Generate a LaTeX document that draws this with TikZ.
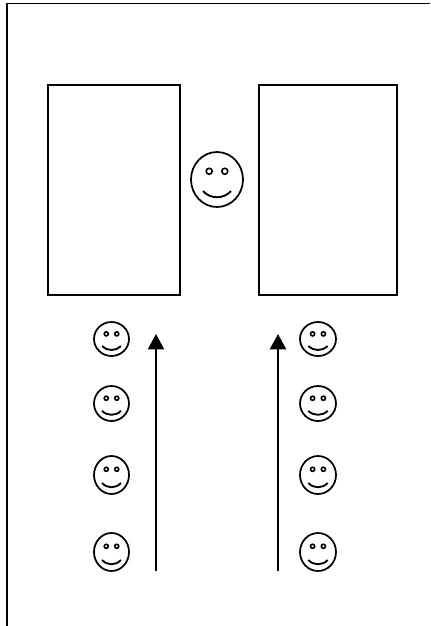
\documentclass[tikz,border=0pt]{standalone}
\usetikzlibrary{arrows.meta}
\tikzset{
  x=0.75pt,y=-0.75pt,
  line/.style={draw=black,line width=1.35pt},
  panel/.style={draw=black,line width=1.3pt,rectangle,inner sep=0pt,outer sep=0pt,minimum width=#1*0.75pt},
  flow/.style={draw=black,line width=1.9pt,-{Triangle[length=11.5pt,width=12pt]}},
  pics/smiley/.style n args={2}{code={
    \draw[line width=1.3pt,fill=white] (0,0) ellipse[x radius=#1,y radius=#2];
    \draw[line width=1.2pt] (-0.30*#1,-0.30*#2) circle[radius=0.115*#1];
    \draw[line width=1.2pt] (0.30*#1,-0.30*#2) circle[radius=0.115*#1];
    \draw[line width=1.4pt] (-0.54*#1,0.42*#2) .. controls (-0.25*#1,0.72*#2) and (0.25*#1,0.72*#2) .. (0.54*#1,0.42*#2);
  }}
}
\begin{document}
\begin{tikzpicture}
\useasboundingbox (0,0) rectangle (430,626);
\draw[line] (7,626) -- (7,3.5) -- (430,3.5);
\node[panel=132,minimum height=210*0.75pt] (left) at (114,190) {};
\node[panel=138,minimum height=210*0.75pt] (right) at (328,190) {};
\pic at (217,179.5) {smiley={26}{27.5}};
\pic at (111.5,339) {smiley={17.5}{17}};
\pic at (111.5,403.5) {smiley={17.5}{17.5}};
\pic at (111.5,475) {smiley={17.5}{19}};
\pic at (111.5,552) {smiley={17.5}{19}};
\pic at (318,339) {smiley={18}{17}};
\pic at (318,403.5) {smiley={18}{17.5}};
\pic at (318,475) {smiley={18}{19}};
\pic at (318,552) {smiley={18}{19}};
\coordinate (la) at (156,571);
\coordinate (lb) at (156,334);
\coordinate (ra) at (278,571);
\coordinate (rb) at (278,334);
\draw[flow] (la) -- (lb);
\draw[flow] (ra) -- (rb);
\end{tikzpicture}
\end{document}
